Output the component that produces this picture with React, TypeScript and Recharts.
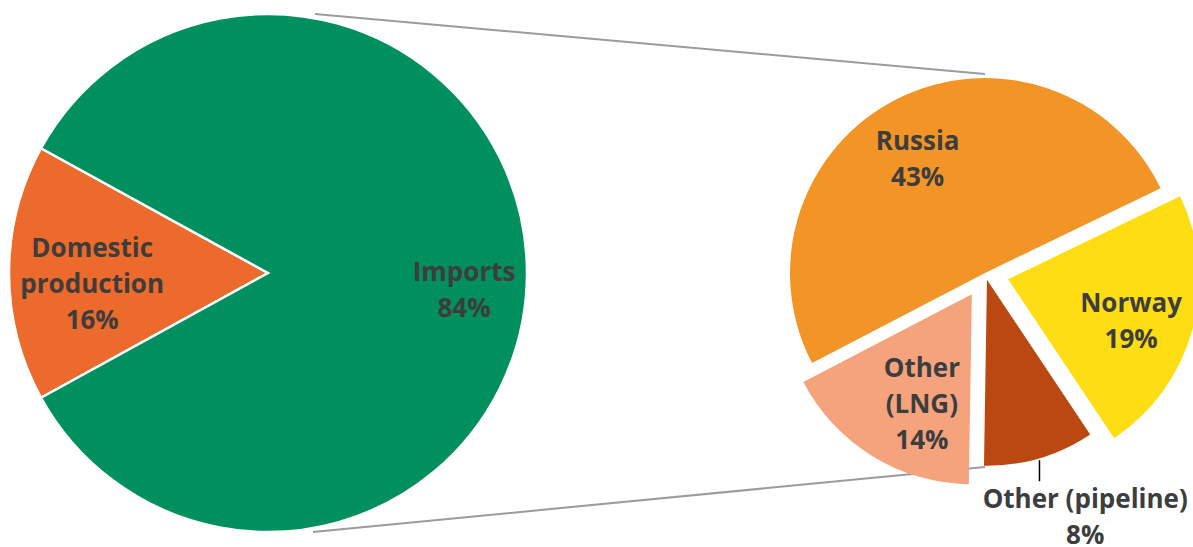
import { PieChart, Pie, Cell, Sector, Customized } from "recharts";

// share of gas supply (%)
const supplyNames = ["Domestic production", "Imports"];
const supplyValues = [16, 84];

// breakdown of imports (% of total; labels are rounded)
const importNames = ["Russia", "Other (LNG)", "Other (pipeline)", "Norway"];
const importValues = [42.5, 14.4, 8.1, 19.2];

const supplyData = supplyNames.map((name, i) => ({ name, value: supplyValues[i] }));
const importData = importNames.map((name, i) => ({ name, value: importValues[i] }));

const W = 1193;
const H = 547;
const BIG = { cx: 268, cy: 273, r: 259 };
const SMALL = { cx: 985, cy: 273 };
const RAD = Math.PI / 180;
const INK = "#3d3d3d";
const FONT = "'Open Sans', 'Noto Sans', sans-serif";

const colors: Record<string, string> = {
  "Domestic production": "#EC6A2B",
  Imports: "#008F5F",
  Russia: "#F29426",
  "Other (LNG)": "#F4A37D",
  "Other (pipeline)": "#BC4811",
  Norway: "#FEDD12",
};

// how far each slice of the right pie is pulled out, and its radius
const explode: Record<string, { offset: number; r: number }> = {
  Russia: { offset: 0, r: 195 },
  "Other (LNG)": { offset: 25, r: 190 },
  "Other (pipeline)": { offset: 7, r: 186 },
  Norway: { offset: 24, r: 191 },
};

// label placement: angle from slice centre, distance as fraction of radius
const labelPos: Record<string, { angle: number; frac: number; lines: string[] }> = {
  "Domestic production": { angle: 183.5, frac: 0.68, lines: ["Domestic", "production"] },
  Imports: { angle: -5, frac: 0.76, lines: ["Imports"] },
  Russia: { angle: 120.5, frac: 0.68, lines: ["Russia"] },
  Norway: { angle: -18.8, frac: 0.68, lines: ["Norway"] },
  "Other (LNG)": { angle: 245.6, frac: 0.637, lines: ["Other", "(LNG)"] },
  "Other (pipeline)": { angle: -67.5, frac: 1.38, lines: ["Other (pipeline)"] },
};

const polar = (cx: number, cy: number, r: number, angle: number) => ({
  x: cx + r * Math.cos(-angle * RAD),
  y: cy + r * Math.sin(-angle * RAD),
});

function sliceCentre(props: any) {
  const ex = explode[props.name] ?? { offset: 0, r: props.outerRadius };
  const c = polar(props.cx, props.cy, ex.offset, props.midAngle);
  return { ...c, r: ex.r };
}

function ExplodedSector(props: any) {
  const c = sliceCentre(props);
  return (
    <Sector
      {...props}
      cx={c.x}
      cy={c.y}
      outerRadius={c.r}
      innerRadius={0}
      stroke="none"
    />
  );
}

function LabelBlock({ x, y, lines }: { x: number; y: number; lines: string[] }) {
  const lh = 36;
  const first = y - ((lines.length - 1) * lh) / 2 + 9;
  return (
    <text
      x={x}
      y={first}
      textAnchor="middle"
      fill={INK}
      fontFamily={FONT}
      fontWeight={700}
      fontSize={26}
    >
      {lines.map((t, i) => (
        <tspan key={i} x={x} dy={i === 0 ? 0 : lh}>
          {t}
        </tspan>
      ))}
    </text>
  );
}

function bigLabel(props: any) {
  const p = labelPos[props.name];
  const pt = polar(props.cx, props.cy, props.outerRadius * p.frac, p.angle);
  return <LabelBlock x={pt.x} y={pt.y} lines={[...p.lines, `${Math.round(props.value)}%`]} />;
}

function smallLabel(props: any) {
  const p = labelPos[props.name];
  const c = sliceCentre(props);
  const pt = polar(c.x, c.y, c.r * p.frac, p.angle);
  const block = <LabelBlock x={pt.x} y={pt.y} lines={[...p.lines, `${Math.round(props.value)}%`]} />;
  if (p.frac <= 1) return block;
  const edge = polar(c.x, c.y, c.r, props.midAngle);
  return (
    <g>
      <line x1={edge.x} y1={edge.y + 2} x2={edge.x} y2={edge.y + 23} stroke="#000" strokeWidth={1.5} />
      {block}
    </g>
  );
}

function SeriesLines() {
  return (
    <g stroke="#9c9c9c" strokeWidth={2}>
      <line x1={BIG.cx + 47} y1={BIG.cy - BIG.r} x2={SMALL.cx} y2={SMALL.cy - 199} />
      <line x1={BIG.cx + 45} y1={BIG.cy + BIG.r} x2={SMALL.cx} y2={SMALL.cy + 194} />
    </g>
  );
}

export default function App() {
  return (
    <div style={{ position: "absolute", left: 0, top: 0, width: W, height: H, background: "#fff" }}>
      <PieChart width={W} height={H} margin={{ top: 0, right: 0, bottom: 0, left: 0 }}>
        <Customized component={SeriesLines} />
        <Pie
          data={supplyData}
          dataKey="value"
          nameKey="name"
          cx={BIG.cx}
          cy={BIG.cy}
          outerRadius={BIG.r}
          startAngle={151.2}
          endAngle={511.2}
          stroke="#fff"
          strokeWidth={2.5}
          label={bigLabel}
          labelLine={false}
          isAnimationActive={false}
        >
          {supplyData.map((d) => (
            <Cell key={d.name} fill={colors[d.name]} />
          ))}
        </Pie>
        <Pie
          data={importData}
          dataKey="value"
          nameKey="name"
          cx={SMALL.cx}
          cy={SMALL.cy}
          outerRadius={193}
          startAngle={25.8}
          endAngle={385.8}
          shape={ExplodedSector}
          activeShape={ExplodedSector}
          inactiveShape={ExplodedSector}
          label={smallLabel}
          labelLine={false}
          isAnimationActive={false}
        >
          {importData.map((d) => (
            <Cell key={d.name} fill={colors[d.name]} />
          ))}
        </Pie>
      </PieChart>
    </div>
  );
}
